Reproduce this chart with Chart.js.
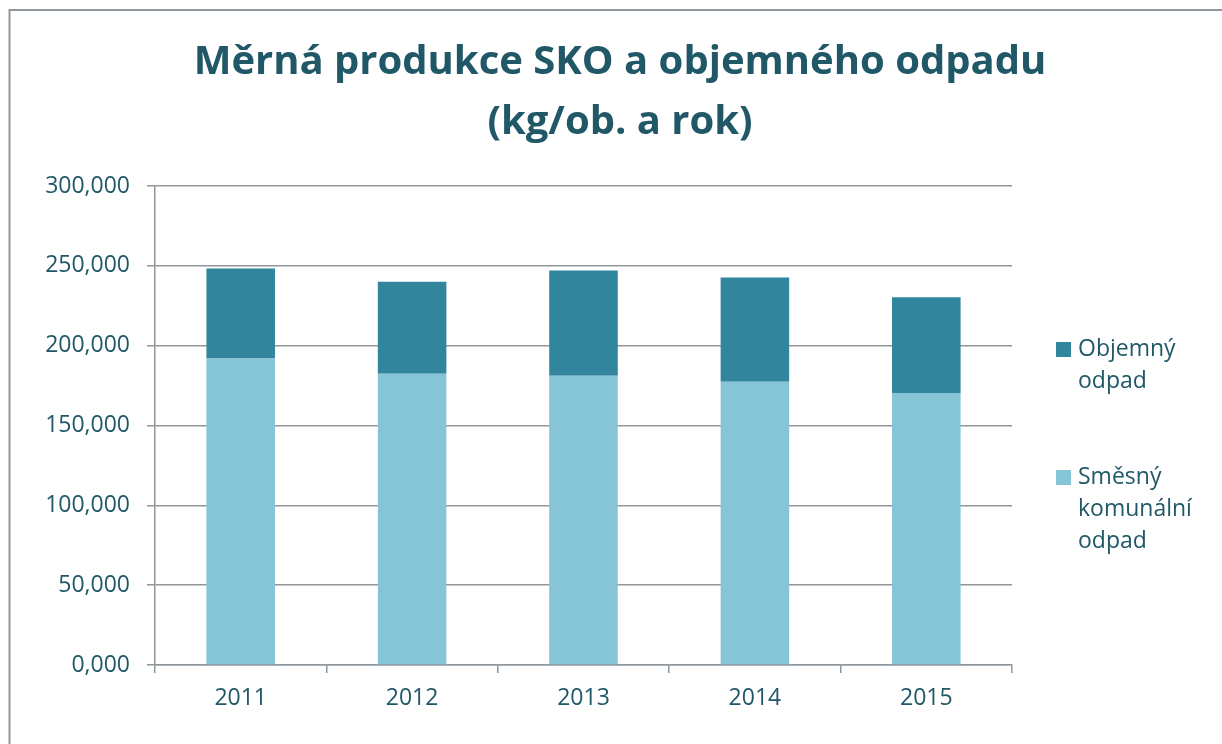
<!DOCTYPE html>
<html>
<head>
<meta charset="utf-8">
<script src="https://cdn.jsdelivr.net/npm/chart.js@4.4.1/dist/chart.umd.min.js"></script>
<style>
body { margin: 0; background: #fff; }
#wrap { position: relative; width: 1222px; height: 744px; }
#legend { position: absolute; left: 1056px; top: 0; font-family: "Open Sans"; font-size: 23px; line-height: 32px; color: #215868; }
.item { position: absolute; left: 0; width: 160px; }
.box { position: absolute; left: 0; width: 15px; height: 15px; }
.txt { position: absolute; left: 22px; width: 125px; }
</style>
</head>
<body>
<div id="wrap">
  <canvas id="chart" width="1222" height="744"></canvas>
  <div id="legend"></div>
</div>
<script>
// data (kg per person and year)
const years = ['2011', '2012', '2013', '2014', '2015']
const smesny = [192.0, 182.4, 181.1, 177.4, 170.3]
const objemny = [56.4, 57.6, 66.0, 65.3, 60.1]
const seriesNames = ['Směsný komunální odpad', 'Objemný odpad']
const titleLines = ['Měrná produkce SKO a objemného odpadu', '(kg/ob. a rok)']

const teal = '#215868'
const gridGray = '#8f979c'

// grey frame round the chart (left + top edge)
const frame = {
    id: 'frame',
    beforeDraw(chart) {
        const c = chart.ctx
        c.save()
        c.strokeStyle = gridGray
        c.lineWidth = 2
        c.beginPath()
        c.moveTo(9.5, 744)
        c.lineTo(9.5, 10)
        c.lineTo(1222, 10)
        c.stroke()
        c.restore()
    }
}

const ctx = document.getElementById('chart')
const chart = new Chart(ctx, {
    type: 'bar',
    data: {
        labels: years,
        datasets: [{
            label: seriesNames[0],
            data: smesny,
            backgroundColor: '#86c5d6',
        }, {
            label: seriesNames[1],
            data: objemny,
            backgroundColor: '#31859c',
        }]
    },
    options: {
        responsive: false,
        animation: false,
        layout: { padding: { left: 18, right: 0, top: 0, bottom: 0 } },
        datasets: { bar: { categoryPercentage: 1, barPercentage: 0.4 } },
        plugins: {
            legend: { display: false },
            tooltip: { enabled: false },
            title: {
                display: true,
                text: titleLines,
                color: teal,
                font: { family: 'Open Sans', size: 40, weight: 'bold', lineHeight: 1.5 },
                padding: { top: 33, bottom: 33 },
            },
        },
        scales: {
            x: {
                stacked: true,
                afterFit(scale) { scale.height = 79 },
                grid: { offset: true, drawOnChartArea: false, drawTicks: true, tickLength: 8, color: gridGray, lineWidth: 1.5 },
                border: { color: gridGray, width: 1.5 },
                ticks: { color: teal, padding: 12, font: { family: 'Open Sans', size: 23 } },
            },
            y: {
                stacked: true,
                min: 0,
                max: 300,
                afterFit(scale) { scale.width = 137 },
                grid: { color: gridGray, lineWidth: 1.5, tickLength: 8 },
                border: { color: gridGray, width: 1.5 },
                ticks: {
                    stepSize: 50,
                    color: teal,
                    padding: 17,
                    font: { family: 'Open Sans', size: 23 },
                    callback: v => v.toFixed(3).replace('.', ','),
                },
            },
            // empty right axis: keeps room for the legend, title stays centred on the page
            yRight: {
                position: 'right',
                afterFit(scale) { scale.width = 210 },
                grid: { display: false },
                border: { display: false },
                ticks: { display: false },
            },
        },
    },
    plugins: [frame]
});

// HTML legend so the names can wrap over several lines
const legendTops = [331, 459]
const items = chart.options.plugins.legend.labels.generateLabels(chart).reverse()
const legendEl = document.getElementById('legend')
items.forEach((it, i) => {
    const div = document.createElement('div')
    div.className = 'item'
    div.style.top = legendTops[i] + 'px'
    div.innerHTML = '<div class="box" style="top:11px;background:' + it.fillStyle + '"></div>' +
        '<div class="txt">' + it.text + '</div>'
    legendEl.appendChild(div)
})
</script>
</body>
</html>
